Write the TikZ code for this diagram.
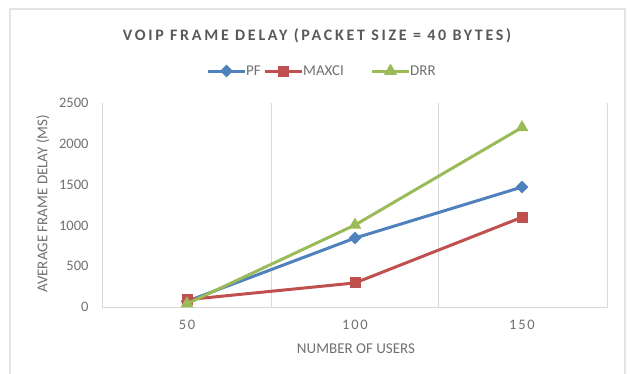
\documentclass[tikz,border=0pt]{standalone}
\usepackage{fontspec}
\setmainfont{Carlito}
\usetikzlibrary{shapes.geometric}
\definecolor{pfblue}{RGB}{79,129,189}
\definecolor{maxred}{RGB}{192,80,77}
\definecolor{drrgreen}{RGB}{155,187,89}
\definecolor{gridline}{RGB}{217,217,217}
\definecolor{frameline}{RGB}{228,228,228}
\definecolor{txtgray}{RGB}{112,112,112}
\definecolor{headgray}{RGB}{89,89,89}
\tikzset{
  series/.style={draw=#1,line width=3pt,line join=round},
  pf-mark/.style={diamond,fill=pfblue,inner sep=0pt,minimum size=13pt},
  max-mark/.style={rectangle,fill=maxred,inner sep=0pt,minimum size=11pt},
  drr-mark/.style={regular polygon,regular polygon sides=3,fill=drrgreen,inner sep=0pt,minimum size=15pt},
  ticklab/.style={font=\fontsize{14.5}{16}\selectfont,text=txtgray},
  catlab/.style={font=\fontsize{14.5}{16}\selectfont\addfontfeatures{LetterSpace=12},text=txtgray},
  axistitle/.style={font=\fontsize{15}{17}\selectfont,text=txtgray},
  legtext/.style={font=\fontsize{15}{17}\selectfont,text=txtgray,anchor=west,inner sep=1pt},
}

\begin{document}
\begin{tikzpicture}[x=1pt,y=-1pt]
  \useasboundingbox (0,0) rectangle (640,373);
  % chart frame
  \draw[frameline,line width=1.2pt] (10,380) -- (10,9) -- (625,9) -- (625,380);
  \node[font=\bfseries\fontsize{16}{19}\selectfont\addfontfeatures{LetterSpace=17},text=headgray] (title) at (317,36) {VOIP FRAME DELAY (PACKET SIZE = 40 BYTES)};
  % legend
  \foreach \s/\c/\x/\t in {pf/pfblue/208/PF, max/maxred/265/MAXCI, drr/drrgreen/372/DRR} {
    \coordinate (\s-l) at (\x,71);
    \coordinate (\s-r) at (\x+37,71);
    \draw[series=\c] (\s-l) -- (\s-r);
    \node[\s-mark] (\s-key) at (\x+18.5,71) {};
    \node[legtext] (\s-txt) at (\s-r) {\t};
  }
  % plot area
  \draw[gridline,line width=1pt] (102,103) -- (102,307) -- (607,307) -- (607,103);
  \foreach \x in {271,438} \draw[gridline,line width=1pt] (\x,103) -- (\x,307);
  \foreach \v [count=\i from 0] in {0,500,...,2500}
    \node[ticklab,anchor=east] (y\i) at (92,307-\v*0.0816) {\v};
  \foreach \x/\n [count=\i] in {187/50,355/100,522/150}
    \node[catlab] (x\i) at (\x,325) {\n};
  \node[axistitle] (xtitle) at (356,349) {NUMBER OF USERS};
  \node[axistitle,rotate=90] (ytitle) at (43,204) {AVERAGE FRAME DELAY (MS)};
  % series
  \begin{scope}[shift={(0pt,-307pt)},y=0.0816pt]
    \foreach \s/\c/\a/\b/\d in {pf/pfblue/70/845/1470, max/maxred/90/295/1100, drr/drrgreen/40/1005/2200} {
      \coordinate (\s1) at (187,\a);
      \coordinate (\s2) at (355,\b);
      \coordinate (\s3) at (522,\d);
      \draw[series=\c] (\s1) -- (\s2) -- (\s3);
      \foreach \k in {1,2,3} \node[\s-mark] (m\s\k) at (\s\k) {};
    }
  \end{scope}
\end{tikzpicture}
\end{document}
